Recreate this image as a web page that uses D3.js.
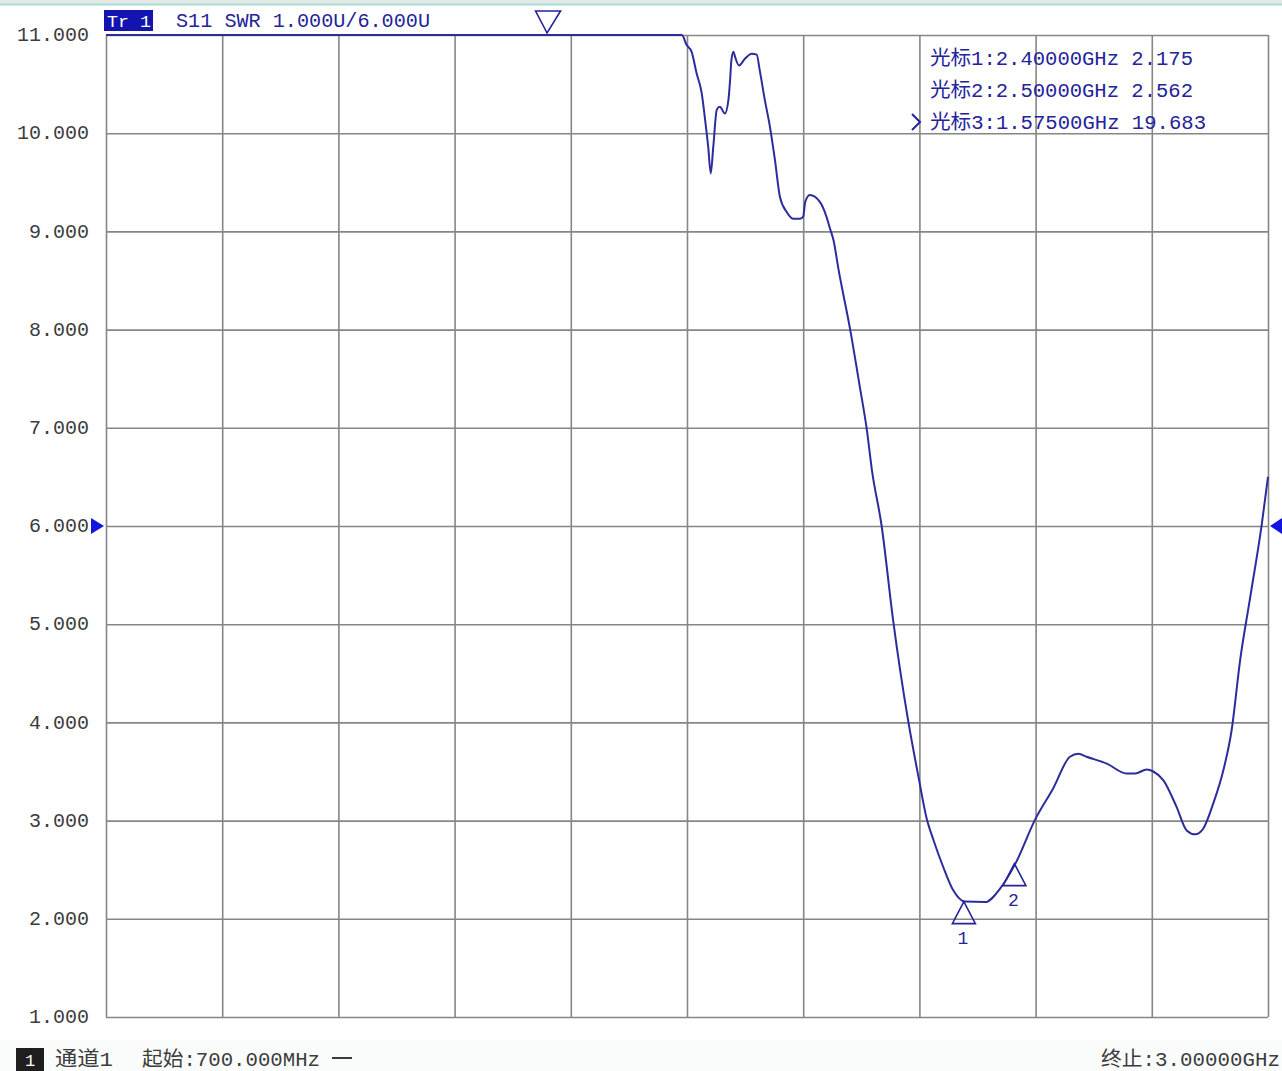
<!DOCTYPE html>
<html>
<head>
<meta charset="utf-8">
<script src="https://cdn.jsdelivr.net/npm/d3@7"></script>
<style>
  html, body { margin: 0; padding: 0; background: #ffffff; }
  svg { display: block; }
  text { font-family: "Liberation Mono", "Noto Sans CJK SC", monospace; }
</style>
</head>
<body>
<svg id="chart" width="1282" height="1071"></svg>
<script>
// ---- data ----
const freqMHz = [700, 1840, 1849, 1859, 1869, 1879, 1886, 1892, 1897, 1902, 1909, 1915, 1925, 1932, 1935, 1938, 1942, 1945, 1953, 1965, 1978, 1988, 1994, 2004, 2014, 2024, 2034, 2047, 2060, 2074, 2080, 2084, 2093, 2113, 2126, 2133, 2140, 2150, 2173, 2192, 2206, 2216, 2235, 2258, 2288, 2308, 2324, 2338, 2357, 2377, 2400, 2440, 2470, 2500, 2539, 2575, 2608, 2625, 2641, 2681, 2720, 2737, 2760, 2773, 2793, 2819, 2839, 2856, 2872, 2892, 2912, 2928, 2945, 2964, 2988, 3000];
const swr = [11.00, 11.00, 10.90, 10.83, 10.61, 10.41, 10.13, 9.86, 9.59, 9.86, 10.24, 10.27, 10.20, 10.34, 10.52, 10.75, 10.83, 10.78, 10.69, 10.76, 10.81, 10.80, 10.64, 10.34, 10.07, 9.73, 9.35, 9.20, 9.13, 9.13, 9.15, 9.30, 9.37, 9.30, 9.15, 9.03, 8.91, 8.61, 8.00, 7.42, 6.98, 6.57, 6.01, 5.04, 4.01, 3.45, 3.03, 2.80, 2.53, 2.29, 2.175, 2.17, 2.31, 2.562, 3.01, 3.33, 3.65, 3.68, 3.65, 3.58, 3.48, 3.48, 3.52, 3.50, 3.41, 3.14, 2.90, 2.86, 2.92, 3.18, 3.52, 3.92, 4.64, 5.25, 6.03, 6.50];

const xTicksMHz = [700, 930, 1160, 1390, 1620, 1850, 2080, 2310, 2540, 2770, 3000];
const yTicks = [1, 2, 3, 4, 5, 6, 7, 8, 9, 10, 11];
const refValue = 6;

const markerIds = ["1", "2", "3"];
const markerFreq = [2400, 2500, 1575];
const markerVal = [2.175, 2.562, 19.683];
const markerText = ["光标1:2.40000GHz 2.175", "光标2:2.50000GHz 2.562", "光标3:1.57500GHz 19.683"];

const headerTag = "Tr 1";
const headerText = "S11 SWR 1.000U/6.000U";
const footerChannel = "1";
const footerChName = "通道1";
const footerStart = "起始:700.000MHz";
const footerStop = "终止:3.00000GHz";

// ---- layout ----
const svg = d3.select("#chart");
const L = 106, R = 1268, T = 35, B = 1017;
const x = d3.scaleLinear().domain([700, 3000]).range([L, R]);
const y = d3.scaleLinear().domain([1, 11]).range([B, T]);

const gridColor = "#868686";
const traceColor = "#2c2c9c";
const textGray = "#3c3c3c";
const navy = "#24249a";

// top strip
svg.append("rect").attr("x", 0).attr("y", 0).attr("width", 1282).attr("height", 4).attr("fill", "#e4e9e8");
svg.append("line").attr("x1", 0).attr("x2", 1282).attr("y1", 4.5).attr("y2", 4.5).attr("stroke", "#a6ddd6").attr("stroke-width", 2);
// faint bottom strip
svg.append("rect").attr("x", 0).attr("y", 1040).attr("width", 1282).attr("height", 31).attr("fill", "#fafcfc");

// grid
const grid = svg.append("g");
grid.append("g")
  .attr("transform", `translate(0,${B})`)
  .call(d3.axisBottom(x).tickValues(xTicksMHz).tickSize(-(B - T)).tickFormat(""))
  .call(g => g.select(".domain").remove())
  .call(g => g.selectAll("line").attr("stroke", gridColor).attr("stroke-width", 1.6));
grid.append("g")
  .attr("transform", `translate(${L},0)`)
  .call(d3.axisLeft(y).tickValues(yTicks).tickSize(-(R - L)).tickFormat(""))
  .call(g => g.select(".domain").remove())
  .call(g => g.selectAll("line").attr("stroke", gridColor).attr("stroke-width", 1.6));

// y labels
svg.append("g")
  .attr("transform", `translate(89,0)`)
  .call(d3.axisLeft(y).tickValues(yTicks).tickSize(0).tickPadding(0).tickFormat(d3.format(".3f")))
  .call(g => g.select(".domain").remove())
  .call(g => g.selectAll("text")
    .attr("fill", textGray)
    .attr("font-size", 20)
    .attr("font-family", "Liberation Mono, monospace")
    .attr("dy", "0.28em"));

// reference triangles
const yr = y(refValue);
svg.append("path").attr("d", `M91,${yr - 8} L104,${yr} L91,${yr + 8} Z`).attr("fill", "#1414e0");
svg.append("path").attr("d", `M1282,${yr - 8} L1270,${yr} L1282,${yr + 8} Z`).attr("fill", "#1414e0");

// trace
const clip = svg.append("clipPath").attr("id", "plotclip");
clip.append("rect").attr("x", L - 1).attr("y", T - 2).attr("width", R - L + 2).attr("height", B - T + 4);
const lineGen = d3.line().x((d, i) => x(freqMHz[i])).y((d, i) => y(swr[i])).curve(d3.curveMonotoneX);
svg.append("path")
  .datum(swr)
  .attr("clip-path", "url(#plotclip)")
  .attr("d", lineGen)
  .attr("fill", "none")
  .attr("stroke", traceColor)
  .attr("stroke-width", 2)
  .attr("stroke-linejoin", "round");

// header
svg.append("rect").attr("x", 104).attr("y", 10).attr("width", 49).attr("height", 21).attr("fill", "#1313b0");
svg.append("text").attr("x", 107).attr("y", 27).attr("fill", "#ffffff").attr("font-size", 17)
  .attr("font-family", "Liberation Serif, serif").attr("textLength", 44).attr("lengthAdjust", "spacingAndGlyphs").text(headerTag);
svg.append("text").attr("x", 176).attr("y", 27).attr("fill", navy).attr("font-size", 20)
  .attr("textLength", 254).attr("lengthAdjust", "spacingAndGlyphs").text(headerText);

// markers on trace (up triangles) and off-scale (down triangle at top)
markerIds.forEach((id, i) => {
  const mx = x(markerFreq[i]);
  if (markerVal[i] <= 11) {
    const my = y(markerVal[i]);
    svg.append("path")
      .attr("d", `M${mx - 1},${my} L${mx - 12.5},${my + 22} L${mx + 10.5},${my + 22} Z`)
      .attr("fill", "none").attr("stroke", navy).attr("stroke-width", 1.6);
    svg.append("text").attr("x", mx - 2).attr("y", my + 42).attr("text-anchor", "middle")
      .attr("fill", navy).attr("font-size", 18).attr("font-family", "Liberation Serif, serif").text(id);
  } else {
    svg.append("path")
      .attr("d", `M${mx - 12.5},11 L${mx + 12.5},11 L${mx - 1},33 Z`)
      .attr("fill", "none").attr("stroke", navy).attr("stroke-width", 1.6);
  }
});

// marker readout
const readLens = [263, 263, 276];
markerText.forEach((t, i) => {
  svg.append("text").attr("x", 930).attr("y", 65 + i * 32).attr("fill", navy).attr("font-size", 20)
    .attr("textLength", readLens[i]).attr("lengthAdjust", "spacingAndGlyphs").text(t);
});
// active marker chevron
svg.append("path").attr("d", "M912,114 L920,122 L912,130").attr("fill", "none").attr("stroke", navy).attr("stroke-width", 2);

// footer
svg.append("rect").attr("x", 16).attr("y", 1048).attr("width", 28).attr("height", 23).attr("fill", "#1e1e1e");
svg.append("text").attr("x", 30).attr("y", 1066).attr("text-anchor", "middle").attr("fill", "#ffffff").attr("font-size", 17).text(footerChannel);
svg.append("text").attr("x", 55).attr("y", 1066).attr("fill", textGray).attr("font-size", 20)
  .attr("textLength", 58).attr("lengthAdjust", "spacingAndGlyphs").text(footerChName);
svg.append("text").attr("x", 142).attr("y", 1066).attr("fill", textGray).attr("font-size", 20)
  .attr("textLength", 178).attr("lengthAdjust", "spacingAndGlyphs").text(footerStart);
svg.append("line").attr("x1", 332).attr("x2", 352).attr("y1", 1058).attr("y2", 1058).attr("stroke", textGray).attr("stroke-width", 2);
svg.append("text").attr("x", 1101).attr("y", 1066).attr("fill", textGray).attr("font-size", 20)
  .attr("textLength", 179).attr("lengthAdjust", "spacingAndGlyphs").text(footerStop);
</script>
</body>
</html>
